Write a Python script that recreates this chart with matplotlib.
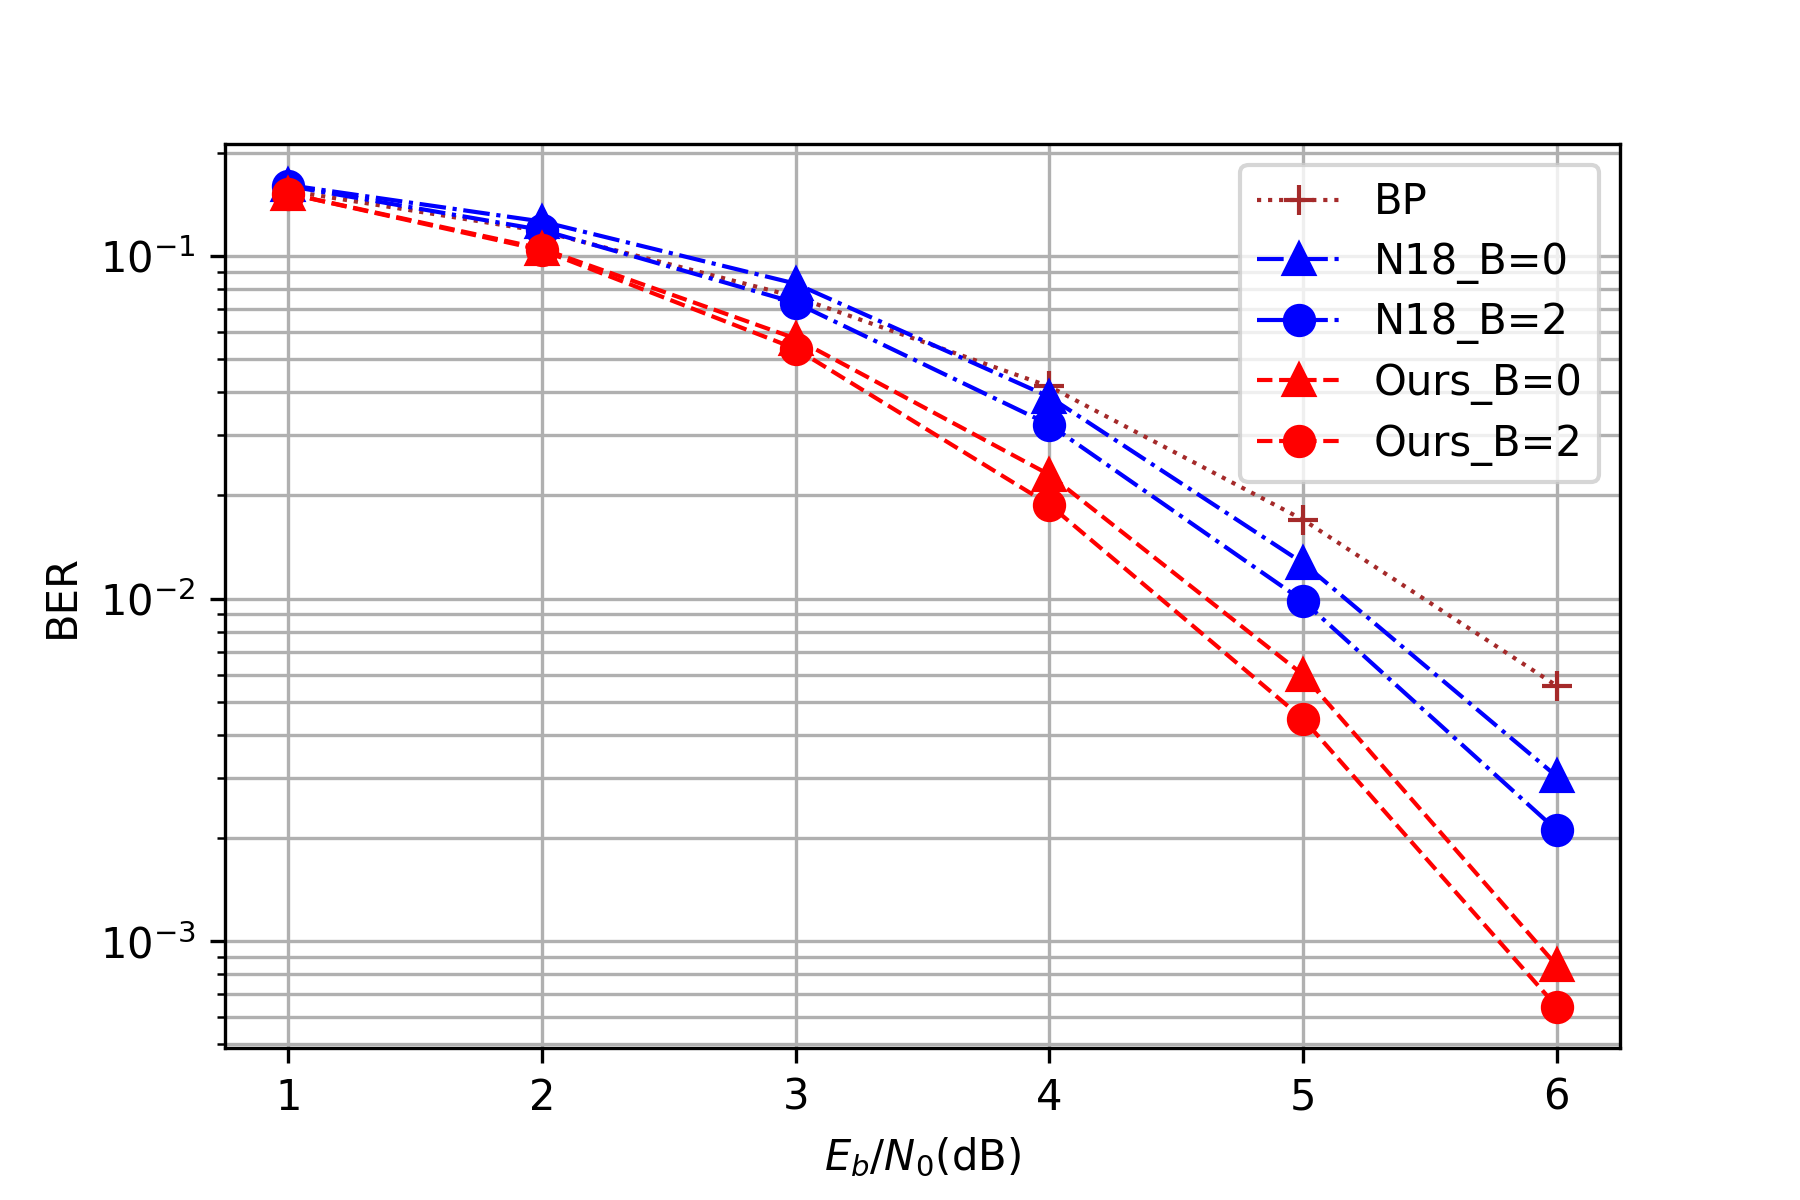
import matplotlib
matplotlib.use("Agg")
import matplotlib.pyplot as plt

snr = [1, 2, 3, 4, 5, 6]
ber_bp = [0.155, 0.118, 0.076, 0.0416, 0.017, 0.00557]
ber_n18_b0 = [0.161, 0.126, 0.083, 0.0388, 0.0127, 0.00303]
ber_n18_b2 = [0.160, 0.119, 0.073, 0.0322, 0.00985, 0.00211]
ber_ours_b0 = [0.152, 0.105, 0.0574, 0.023, 0.0060, 0.00085]
ber_ours_b2 = [0.152, 0.104, 0.0536, 0.0188, 0.00446, 0.000645]

fig, ax = plt.subplots(figsize=(6, 4), dpi=300)
fig.subplots_adjust(left=0.125, right=0.9, bottom=0.127, top=0.88)
lw = 1.0
ms = 7
ax.semilogy(snr, ber_bp, ':', color='brown', marker='+', lw=lw, ms=ms, label='BP')
ax.semilogy(snr, ber_n18_b0, '-.', color='blue', marker='^', lw=lw, ms=ms, label='N18_B=0')
ax.semilogy(snr, ber_n18_b2, '-.', color='blue', marker='o', lw=lw, ms=ms, label='N18_B=2')
ax.semilogy(snr, ber_ours_b0, '--', color='red', marker='^', lw=lw, ms=ms, label='Ours_B=0')
ax.semilogy(snr, ber_ours_b2, '--', color='red', marker='o', lw=lw, ms=ms, label='Ours_B=2')

ax.grid(True, which='both')
ax.set_xlabel('$E_b/N_0$(dB)')
ax.set_ylabel('BER')
ax.legend(loc='upper right', labelspacing=0.42)
fig.savefig('out.png')
